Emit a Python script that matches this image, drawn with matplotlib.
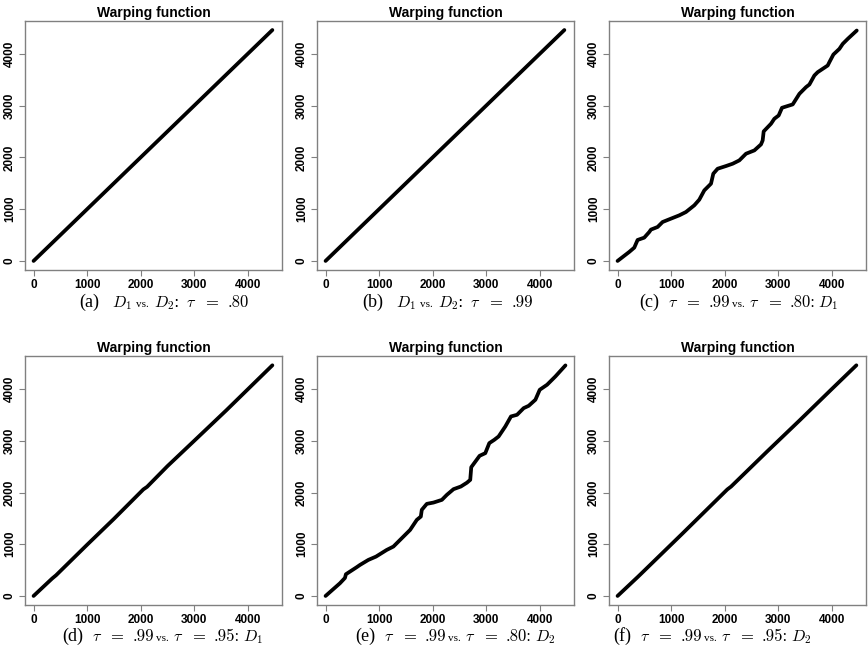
import numpy as np
import matplotlib as mpl
mpl.use('Agg')
import matplotlib.pyplot as plt

mpl.rcParams['mathtext.fontset'] = 'cm'

# warping paths (x, y)
a_x = [0, 1000, 2000, 3000, 4460]
a_y = [0, 1000, 2000, 3000, 4460]
b_x = [0, 1000, 2000, 3000, 4460]
b_y = [0, 1000, 2000, 3000, 4460]
c_x = [0, 218, 312, 374, 498, 592, 623, 748, 841, 966, 1153, 1277, 1433, 1526, 1620, 1745,
       1788, 1869, 2025, 2150, 2274, 2399, 2555, 2679, 2710, 2729, 2866, 2928, 3009, 3071,
       3209, 3271, 3396, 3520, 3583, 3676, 3738, 3925, 3956, 4031, 4143, 4206, 4299, 4467]
c_y = [0, 174, 257, 405, 450, 559, 605, 656, 752, 804, 881, 945, 1074, 1183, 1363, 1492,
       1685, 1781, 1833, 1878, 1942, 2071, 2135, 2251, 2328, 2502, 2650, 2746, 2810, 2958,
       3003, 3023, 3228, 3357, 3408, 3582, 3646, 3775, 3839, 3987, 4096, 4193, 4289, 4450]
d_x = [0, 350, 420, 1000, 1500, 2050, 2120, 2500, 3000, 3600, 4460]
d_y = [0, 340, 400, 990, 1490, 2060, 2110, 2510, 3000, 3590, 4460]
e_x = [0, 268, 362, 380, 580, 643, 799, 942, 1142, 1267, 1454, 1579, 1704, 1779, 1797, 1891,
       2016, 2172, 2265, 2390, 2527, 2640, 2702, 2721, 2877, 2983, 3058, 3151, 3232, 3357,
       3463, 3576, 3700, 3794, 3919, 4000, 4137, 4293, 4480]
e_y = [0, 245, 348, 420, 555, 600, 697, 761, 890, 955, 1148, 1277, 1471, 1535, 1665, 1781,
       1806, 1858, 1955, 2065, 2116, 2190, 2245, 2490, 2710, 2761, 2955, 3019, 3084, 3277,
       3471, 3503, 3632, 3677, 3794, 3987, 4084, 4245, 4458]
f_x = [0, 380, 440, 1200, 2050, 2120, 2800, 3400, 4000, 4460]
f_y = [0, 370, 430, 1195, 2060, 2115, 2800, 3395, 4000, 4460]

paths = [(a_x, a_y), (b_x, b_y), (c_x, c_y), (d_x, d_y), (e_x, e_y), (f_x, f_y)]
letters = ['(a)', '(b)', '(c)', '(d)', '(e)', '(f)']
# caption pieces: (text, kind, gap before in points)
def cap_vs(t1, t2, dd):
    return [(r'$\tau$', 'm', 6.5), ('=', 'n', 6), (t1, 'n', 6.5), ('vs.', 's', 1.5),
            (r'$\tau$', 'm', 3), ('=', 'n', 6), (t2 + ':', 'n', 6.5), (dd, 'm', 2)]

captions = [
    [('$D_1$', 'm', 9), ('vs.', 's', 3.5), ('$D_2$:', 'm', 3.5), (r'$\tau$', 'm', 5),
     ('=', 'n', 6), ('.80', 'n', 7)],
    [('$D_1$', 'm', 9), ('vs.', 's', 3.5), ('$D_2$:', 'm', 3.5), (r'$\tau$', 'm', 5),
     ('=', 'n', 6), ('.99', 'n', 7)],
    cap_vs('.99', '.80', '$D_1$'),
    cap_vs('.99', '.95', '$D_1$'),
    cap_vs('.99', '.80', '$D_2$'),
    cap_vs('.99', '.95', '$D_2$'),
]
cap_left = [79, 362, 639, 62, 355, 613]   # pixel x of the "(x)" label
cap_base = [307, 307, 307, 641, 641, 641]  # pixel baseline

W, H = 868, 661
fig = plt.figure(figsize=(W / 100, H / 100), dpi=100)

col_left = [25, 317, 609]
rows = [(20.7, 270), (356, 605)]
gray = '#808080'

for i, (xs, ys) in enumerate(paths):
    r, c = divmod(i, 3)
    top, bot = rows[r]
    ax = fig.add_axes([col_left[c] / W, 1 - bot / H, 257 / W, (bot - top) / H])
    ax.plot(xs, ys, color='black', lw=2.7, solid_capstyle='round', solid_joinstyle='round')
    ax.set_xlim(-160, 4640)
    ax.set_ylim(-175, 4640)
    ax.set_xticks([0, 1000, 2000, 3000, 4000])
    ax.set_yticks([0, 1000, 2000, 3000, 4000])
    for s in ax.spines.values():
        s.set_color(gray)
        s.set_linewidth(1.0)
    ax.tick_params(length=4.5, width=0.8, color=gray, labelsize=8.5, pad=2)
    for lab in ax.get_xticklabels():
        lab.set_fontweight('bold'); lab.set_family('Liberation Sans')
    for lab in ax.get_yticklabels():
        lab.set_fontweight('bold'); lab.set_family('Liberation Sans')
        lab.set_rotation(90); lab.set_va('center')
    ax.set_title('Warping function', fontsize=10, fontweight='bold',
                 family='Liberation Sans', pad=3)

    # caption: "(x)" then chained pieces
    prev = fig.text(cap_left[i] / W, 1 - cap_base[i] / H, letters[i],
                    family='Liberation Serif', fontsize=13, va='baseline', ha='left')
    for txt, kind, gap in captions[i]:
        if kind == 's':
            kw = dict(family='Liberation Serif', fontsize=8)
        elif kind == 'n':
            kw = dict(family='cmr10', fontsize=12)
        else:
            kw = dict(fontsize=11.5)
        prev = plt.annotate(txt, xy=(1, 1 - cap_base[i] / H), xycoords=(prev, 'figure fraction'),
                            xytext=(gap, 0), textcoords='offset points',
                            va='baseline', ha='left', annotation_clip=False, **kw)

fig.savefig('out.png', dpi=100)
